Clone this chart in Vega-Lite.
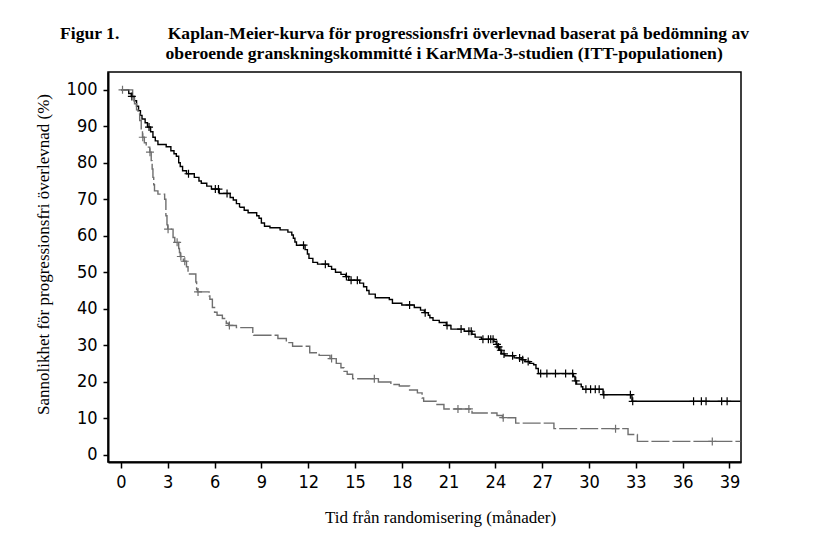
{
  "$schema": "https://vega.github.io/schema/vega-lite/v6.json",
  "width": 633,
  "height": 390,
  "autosize": "none",
  "padding": {"left": 108, "top": 72, "right": 82, "bottom": 73},
  "background": "white",
  "title": {
    "text": [
      "Figur 1.\u00a0\u00a0\u00a0\u00a0\u00a0\u00a0\u00a0\u00a0\u00a0\u00a0\u00a0Kaplan-Meier-kurva för progressionsfri överlevnad baserat på bedömning av",
      "\u200b\u00a0\u00a0\u00a0\u00a0\u00a0\u00a0\u00a0\u00a0\u00a0\u00a0\u00a0\u00a0\u00a0\u00a0\u00a0\u00a0\u00a0\u00a0\u00a0\u00a0\u00a0\u00a0\u00a0\u00a0oberoende granskningskommitté i KarMMa-3-studien (ITT-populationen)"
    ],
    "anchor": "start",
    "frame": "group",
    "dx": -48,
    "offset": 9,
    "font": "Liberation Serif",
    "fontSize": 17.6,
    "fontWeight": "bold",
    "color": "#000",
    "lineHeight": 20
  },
  "config": {
    "view": {"stroke": "#000", "strokeWidth": 1.5},
    "axis": {
      "grid": false,
      "domainColor": "#000",
      "domainWidth": 2,
      "tickColor": "#000",
      "tickWidth": 1.5,
      "labelColor": "#000",
      "labelFont": "DejaVu Sans Condensed, Liberation Sans",
      "labelFontSize": 18,
      "titleFont": "Liberation Serif",
      "titleFontSize": 17,
      "titleFontWeight": "normal",
      "titleColor": "#000"
    }
  },
  "datasets": {
    "km": [
      {"arm": "Ide-cel", "t": 0, "s": 100},
      {"arm": "Ide-cel", "t": 0.5, "s": 99},
      {"arm": "Ide-cel", "t": 0.66, "s": 98.2},
      {"arm": "Ide-cel", "t": 0.85, "s": 97},
      {"arm": "Ide-cel", "t": 1.0, "s": 95.5},
      {"arm": "Ide-cel", "t": 1.13, "s": 94.3},
      {"arm": "Ide-cel", "t": 1.25, "s": 93},
      {"arm": "Ide-cel", "t": 1.35, "s": 92},
      {"arm": "Ide-cel", "t": 1.55, "s": 91},
      {"arm": "Ide-cel", "t": 1.7, "s": 89.8},
      {"arm": "Ide-cel", "t": 1.9, "s": 88.5},
      {"arm": "Ide-cel", "t": 2.05, "s": 87},
      {"arm": "Ide-cel", "t": 2.2, "s": 86},
      {"arm": "Ide-cel", "t": 2.37, "s": 85},
      {"arm": "Ide-cel", "t": 2.9, "s": 84.4},
      {"arm": "Ide-cel", "t": 3.2, "s": 83.3},
      {"arm": "Ide-cel", "t": 3.4, "s": 82.5},
      {"arm": "Ide-cel", "t": 3.55, "s": 81.8},
      {"arm": "Ide-cel", "t": 3.7, "s": 80},
      {"arm": "Ide-cel", "t": 3.8, "s": 79},
      {"arm": "Ide-cel", "t": 3.95, "s": 77.8},
      {"arm": "Ide-cel", "t": 4.2, "s": 77},
      {"arm": "Ide-cel", "t": 4.7, "s": 76},
      {"arm": "Ide-cel", "t": 5.0, "s": 75},
      {"arm": "Ide-cel", "t": 5.15, "s": 74.4},
      {"arm": "Ide-cel", "t": 5.5, "s": 73.6},
      {"arm": "Ide-cel", "t": 5.8, "s": 72.8},
      {"arm": "Ide-cel", "t": 6.3, "s": 71.6},
      {"arm": "Ide-cel", "t": 7.0, "s": 70.5},
      {"arm": "Ide-cel", "t": 7.2, "s": 69.8},
      {"arm": "Ide-cel", "t": 7.4, "s": 68.8},
      {"arm": "Ide-cel", "t": 7.6, "s": 67.8},
      {"arm": "Ide-cel", "t": 7.9, "s": 67},
      {"arm": "Ide-cel", "t": 8.15, "s": 66.3},
      {"arm": "Ide-cel", "t": 8.7, "s": 65.5},
      {"arm": "Ide-cel", "t": 8.85, "s": 64.8},
      {"arm": "Ide-cel", "t": 9.0, "s": 63.5},
      {"arm": "Ide-cel", "t": 9.2, "s": 62.6},
      {"arm": "Ide-cel", "t": 9.55, "s": 62.2},
      {"arm": "Ide-cel", "t": 10.2, "s": 61.6},
      {"arm": "Ide-cel", "t": 10.7, "s": 61},
      {"arm": "Ide-cel", "t": 10.95, "s": 60.2},
      {"arm": "Ide-cel", "t": 11.05, "s": 59.3},
      {"arm": "Ide-cel", "t": 11.15, "s": 58.3},
      {"arm": "Ide-cel", "t": 11.25, "s": 57.4},
      {"arm": "Ide-cel", "t": 11.8, "s": 56.2},
      {"arm": "Ide-cel", "t": 11.95, "s": 55},
      {"arm": "Ide-cel", "t": 12.05, "s": 53.8},
      {"arm": "Ide-cel", "t": 12.3, "s": 52.7},
      {"arm": "Ide-cel", "t": 12.6, "s": 52.2},
      {"arm": "Ide-cel", "t": 13.3, "s": 51.6},
      {"arm": "Ide-cel", "t": 13.5, "s": 50.8},
      {"arm": "Ide-cel", "t": 13.75, "s": 50},
      {"arm": "Ide-cel", "t": 14.1, "s": 49.4},
      {"arm": "Ide-cel", "t": 14.4, "s": 48.8},
      {"arm": "Ide-cel", "t": 14.6, "s": 47.8},
      {"arm": "Ide-cel", "t": 15.3, "s": 47},
      {"arm": "Ide-cel", "t": 15.55, "s": 46},
      {"arm": "Ide-cel", "t": 15.75, "s": 45},
      {"arm": "Ide-cel", "t": 15.9, "s": 44},
      {"arm": "Ide-cel", "t": 16.3, "s": 43},
      {"arm": "Ide-cel", "t": 17.2, "s": 42.5},
      {"arm": "Ide-cel", "t": 17.4, "s": 41.5},
      {"arm": "Ide-cel", "t": 18.0, "s": 41},
      {"arm": "Ide-cel", "t": 18.8, "s": 40.3},
      {"arm": "Ide-cel", "t": 19.2, "s": 39.6},
      {"arm": "Ide-cel", "t": 19.45, "s": 38.9},
      {"arm": "Ide-cel", "t": 19.7, "s": 38.2},
      {"arm": "Ide-cel", "t": 19.8, "s": 37.5},
      {"arm": "Ide-cel", "t": 20.0, "s": 36.8},
      {"arm": "Ide-cel", "t": 20.4, "s": 36.2},
      {"arm": "Ide-cel", "t": 20.85, "s": 35.4},
      {"arm": "Ide-cel", "t": 21.15, "s": 34.4},
      {"arm": "Ide-cel", "t": 22.0, "s": 33.8},
      {"arm": "Ide-cel", "t": 22.5, "s": 33},
      {"arm": "Ide-cel", "t": 22.7, "s": 32.2},
      {"arm": "Ide-cel", "t": 23.1, "s": 31.6},
      {"arm": "Ide-cel", "t": 23.9, "s": 31},
      {"arm": "Ide-cel", "t": 24.05, "s": 30.2},
      {"arm": "Ide-cel", "t": 24.15, "s": 29.5},
      {"arm": "Ide-cel", "t": 24.25, "s": 28.6},
      {"arm": "Ide-cel", "t": 24.4, "s": 27.6},
      {"arm": "Ide-cel", "t": 24.6, "s": 27.1},
      {"arm": "Ide-cel", "t": 25.2, "s": 26.5},
      {"arm": "Ide-cel", "t": 25.7, "s": 26},
      {"arm": "Ide-cel", "t": 25.9, "s": 25.5},
      {"arm": "Ide-cel", "t": 26.2, "s": 25},
      {"arm": "Ide-cel", "t": 26.45, "s": 24.6},
      {"arm": "Ide-cel", "t": 26.6, "s": 23.6},
      {"arm": "Ide-cel", "t": 26.75, "s": 22.2},
      {"arm": "Ide-cel", "t": 29.0, "s": 21.4},
      {"arm": "Ide-cel", "t": 29.1, "s": 20.2},
      {"arm": "Ide-cel", "t": 29.2, "s": 19.3},
      {"arm": "Ide-cel", "t": 29.5, "s": 18.6},
      {"arm": "Ide-cel", "t": 29.6, "s": 17.9},
      {"arm": "Ide-cel", "t": 30.9, "s": 16.4},
      {"arm": "Ide-cel", "t": 32.75, "s": 14.6},
      {"arm": "Ide-cel", "t": 39.7, "s": 14.6},
      {"arm": "Standardregim", "t": 0, "s": 100},
      {"arm": "Standardregim", "t": 0.75, "s": 98},
      {"arm": "Standardregim", "t": 0.87, "s": 96.2},
      {"arm": "Standardregim", "t": 1.0, "s": 94.5},
      {"arm": "Standardregim", "t": 1.09, "s": 93.4},
      {"arm": "Standardregim", "t": 1.2, "s": 91.6},
      {"arm": "Standardregim", "t": 1.3, "s": 88.8},
      {"arm": "Standardregim", "t": 1.38, "s": 87},
      {"arm": "Standardregim", "t": 1.5, "s": 85.5},
      {"arm": "Standardregim", "t": 1.62, "s": 84.3},
      {"arm": "Standardregim", "t": 1.85, "s": 82.9},
      {"arm": "Standardregim", "t": 1.94, "s": 80.6},
      {"arm": "Standardregim", "t": 2.0, "s": 78.3},
      {"arm": "Standardregim", "t": 2.05, "s": 76},
      {"arm": "Standardregim", "t": 2.1, "s": 74},
      {"arm": "Standardregim", "t": 2.15, "s": 72.3},
      {"arm": "Standardregim", "t": 2.37, "s": 71.4},
      {"arm": "Standardregim", "t": 2.8, "s": 70},
      {"arm": "Standardregim", "t": 2.88, "s": 65.5},
      {"arm": "Standardregim", "t": 2.95, "s": 63},
      {"arm": "Standardregim", "t": 3.0, "s": 61.8},
      {"arm": "Standardregim", "t": 3.34, "s": 59.5},
      {"arm": "Standardregim", "t": 3.45, "s": 58.2},
      {"arm": "Standardregim", "t": 3.7, "s": 56.5},
      {"arm": "Standardregim", "t": 3.75, "s": 55.4},
      {"arm": "Standardregim", "t": 3.8, "s": 54.3},
      {"arm": "Standardregim", "t": 4.0, "s": 53},
      {"arm": "Standardregim", "t": 4.2, "s": 51.5},
      {"arm": "Standardregim", "t": 4.3, "s": 49.5},
      {"arm": "Standardregim", "t": 4.8, "s": 47.3},
      {"arm": "Standardregim", "t": 4.85, "s": 45.3},
      {"arm": "Standardregim", "t": 4.9, "s": 44.6},
      {"arm": "Standardregim", "t": 5.65, "s": 43.5},
      {"arm": "Standardregim", "t": 5.7, "s": 42.6},
      {"arm": "Standardregim", "t": 5.86, "s": 40.3},
      {"arm": "Standardregim", "t": 6.0, "s": 39},
      {"arm": "Standardregim", "t": 6.16, "s": 38.2},
      {"arm": "Standardregim", "t": 6.5, "s": 37.3},
      {"arm": "Standardregim", "t": 6.75, "s": 36},
      {"arm": "Standardregim", "t": 6.9, "s": 35.4},
      {"arm": "Standardregim", "t": 7.4, "s": 34.8},
      {"arm": "Standardregim", "t": 8.45, "s": 33.5},
      {"arm": "Standardregim", "t": 8.5, "s": 32.7},
      {"arm": "Standardregim", "t": 10.06, "s": 31.8},
      {"arm": "Standardregim", "t": 10.6, "s": 30.7},
      {"arm": "Standardregim", "t": 11.0, "s": 29.7},
      {"arm": "Standardregim", "t": 12.1, "s": 27.9},
      {"arm": "Standardregim", "t": 12.7, "s": 27.2},
      {"arm": "Standardregim", "t": 13.4, "s": 26.3},
      {"arm": "Standardregim", "t": 13.8, "s": 25},
      {"arm": "Standardregim", "t": 14.1, "s": 23.8},
      {"arm": "Standardregim", "t": 14.3, "s": 22.8},
      {"arm": "Standardregim", "t": 14.5, "s": 22},
      {"arm": "Standardregim", "t": 14.85, "s": 20.8},
      {"arm": "Standardregim", "t": 16.5, "s": 19.9},
      {"arm": "Standardregim", "t": 17.3, "s": 19.2},
      {"arm": "Standardregim", "t": 17.84, "s": 18.8},
      {"arm": "Standardregim", "t": 18.5, "s": 17.7},
      {"arm": "Standardregim", "t": 19.0, "s": 16.9},
      {"arm": "Standardregim", "t": 19.3, "s": 15.5},
      {"arm": "Standardregim", "t": 19.4, "s": 14.6},
      {"arm": "Standardregim", "t": 20.2, "s": 13.7},
      {"arm": "Standardregim", "t": 20.7, "s": 12.5},
      {"arm": "Standardregim", "t": 22.5, "s": 11.4},
      {"arm": "Standardregim", "t": 24.1, "s": 10.7},
      {"arm": "Standardregim", "t": 24.45, "s": 10.1},
      {"arm": "Standardregim", "t": 25.3, "s": 8.6},
      {"arm": "Standardregim", "t": 27.75, "s": 7.1},
      {"arm": "Standardregim", "t": 32.5, "s": 5.5},
      {"arm": "Standardregim", "t": 33.1, "s": 3.6},
      {"arm": "Standardregim", "t": 39.7, "s": 3.6}
    ],
    "censor": [
      {"arm": "Ide-cel", "t": 0.7, "s": 98.2},
      {"arm": "Ide-cel", "t": 1.8, "s": 89.8},
      {"arm": "Ide-cel", "t": 4.33, "s": 77},
      {"arm": "Ide-cel", "t": 6.05, "s": 72.8},
      {"arm": "Ide-cel", "t": 6.25, "s": 72.8},
      {"arm": "Ide-cel", "t": 6.8, "s": 71.6},
      {"arm": "Ide-cel", "t": 11.7, "s": 57.4},
      {"arm": "Ide-cel", "t": 13.1, "s": 52.2},
      {"arm": "Ide-cel", "t": 14.45, "s": 48.8},
      {"arm": "Ide-cel", "t": 14.75, "s": 47.8},
      {"arm": "Ide-cel", "t": 15.15, "s": 47.8},
      {"arm": "Ide-cel", "t": 18.5, "s": 41},
      {"arm": "Ide-cel", "t": 19.5, "s": 38.9},
      {"arm": "Ide-cel", "t": 20.9, "s": 35.4},
      {"arm": "Ide-cel", "t": 21.8, "s": 34.4},
      {"arm": "Ide-cel", "t": 22.3, "s": 33.8},
      {"arm": "Ide-cel", "t": 22.45, "s": 33.8},
      {"arm": "Ide-cel", "t": 23.2, "s": 31.6},
      {"arm": "Ide-cel", "t": 23.55, "s": 31.6},
      {"arm": "Ide-cel", "t": 23.7, "s": 31.6},
      {"arm": "Ide-cel", "t": 23.85, "s": 31.6},
      {"arm": "Ide-cel", "t": 24.1, "s": 30.2},
      {"arm": "Ide-cel", "t": 24.2, "s": 29.5},
      {"arm": "Ide-cel", "t": 24.35, "s": 28.6},
      {"arm": "Ide-cel", "t": 24.55, "s": 27.6},
      {"arm": "Ide-cel", "t": 25.1, "s": 27.1},
      {"arm": "Ide-cel", "t": 25.55, "s": 26.5},
      {"arm": "Ide-cel", "t": 25.75, "s": 26},
      {"arm": "Ide-cel", "t": 26.1, "s": 25.5},
      {"arm": "Ide-cel", "t": 26.9, "s": 22.2},
      {"arm": "Ide-cel", "t": 27.3, "s": 22.2},
      {"arm": "Ide-cel", "t": 27.85, "s": 22.2},
      {"arm": "Ide-cel", "t": 28.5, "s": 22.2},
      {"arm": "Ide-cel", "t": 28.95, "s": 22.2},
      {"arm": "Ide-cel", "t": 29.15, "s": 20.2},
      {"arm": "Ide-cel", "t": 29.8, "s": 17.9},
      {"arm": "Ide-cel", "t": 30.1, "s": 17.9},
      {"arm": "Ide-cel", "t": 30.4, "s": 17.9},
      {"arm": "Ide-cel", "t": 30.65, "s": 17.9},
      {"arm": "Ide-cel", "t": 30.95, "s": 16.4},
      {"arm": "Ide-cel", "t": 32.65, "s": 16.4},
      {"arm": "Ide-cel", "t": 32.8, "s": 14.6},
      {"arm": "Ide-cel", "t": 36.7, "s": 14.6},
      {"arm": "Ide-cel", "t": 37.2, "s": 14.6},
      {"arm": "Ide-cel", "t": 37.5, "s": 14.6},
      {"arm": "Ide-cel", "t": 38.5, "s": 14.6},
      {"arm": "Ide-cel", "t": 38.85, "s": 14.6},
      {"arm": "Standardregim", "t": 0.1, "s": 100},
      {"arm": "Standardregim", "t": 1.4, "s": 87},
      {"arm": "Standardregim", "t": 1.86, "s": 82.9},
      {"arm": "Standardregim", "t": 3.02, "s": 61.8},
      {"arm": "Standardregim", "t": 3.6, "s": 58.2},
      {"arm": "Standardregim", "t": 3.84, "s": 54.3},
      {"arm": "Standardregim", "t": 4.09, "s": 53},
      {"arm": "Standardregim", "t": 4.94, "s": 44.6},
      {"arm": "Standardregim", "t": 6.95, "s": 35.4},
      {"arm": "Standardregim", "t": 13.5, "s": 26.3},
      {"arm": "Standardregim", "t": 16.24, "s": 20.8},
      {"arm": "Standardregim", "t": 21.6, "s": 12.5},
      {"arm": "Standardregim", "t": 22.3, "s": 12.5},
      {"arm": "Standardregim", "t": 24.5, "s": 10.1},
      {"arm": "Standardregim", "t": 31.7, "s": 7.1},
      {"arm": "Standardregim", "t": 37.9, "s": 3.6}
    ]
  },
  "encoding": {
    "x": {
      "field": "t",
      "type": "quantitative",
      "scale": {"domain": [-0.83, 39.74], "nice": false, "zero": false},
      "axis": {
        "values": [0, 3, 6, 9, 12, 15, 18, 21, 24, 27, 30, 33, 36, 39],
        "tickSize": 6,
        "labelPadding": 5,
        "title": "Tid från randomisering (månader)",
        "titleX": 332,
        "titleY": 60,
        "titleAlign": "center",
        "titleBaseline": "alphabetic"
      }
    },
    "y": {
      "field": "s",
      "type": "quantitative",
      "scale": {"domain": [-2.05, 104.9], "nice": false, "zero": false},
      "axis": {
        "values": [0, 10, 20, 30, 40, 50, 60, 70, 80, 90, 100],
        "tickSize": 5,
        "labelPadding": 6,
        "title": "Sannolikhet för progressionsfri överlevnad (%)",
        "titleX": -60,
        "titleY": 182,
        "titleAngle": -90,
        "titleAlign": "center",
        "titleBaseline": "alphabetic"
      }
    },
    "color": {
      "field": "arm",
      "type": "nominal",
      "scale": {"domain": ["Ide-cel", "Standardregim"], "range": ["#000000", "#6f6f6f"]},
      "legend": null
    }
  },
  "layer": [
    {
      "mark": {"type": "rule", "color": "#c4c4c4", "strokeWidth": 1.5, "strokeDash": [21, 20]},
      "encoding": {"y": {"datum": 50}, "color": {"value": "#c4c4c4"}, "x": {"value": 0}, "x2": {"value": 633}}
    },
    {
      "data": {"name": "km"},
      "mark": {"type": "line", "interpolate": "step-after", "strokeWidth": 1.4},
      "encoding": {
        "strokeDash": {
          "field": "arm",
          "type": "nominal",
          "scale": {"domain": ["Ide-cel", "Standardregim"], "range": [[1, 0], [18, 3]]},
          "legend": null
        },
        "order": {"field": "t", "type": "quantitative"}
      }
    },
    {
      "data": {"name": "censor"},
      "mark": {"type": "point", "shape": "M-1,0L1,0M0,-1L0,1", "filled": false, "size": 64, "strokeWidth": 1.2, "opacity": 1}
    }
  ]
}
